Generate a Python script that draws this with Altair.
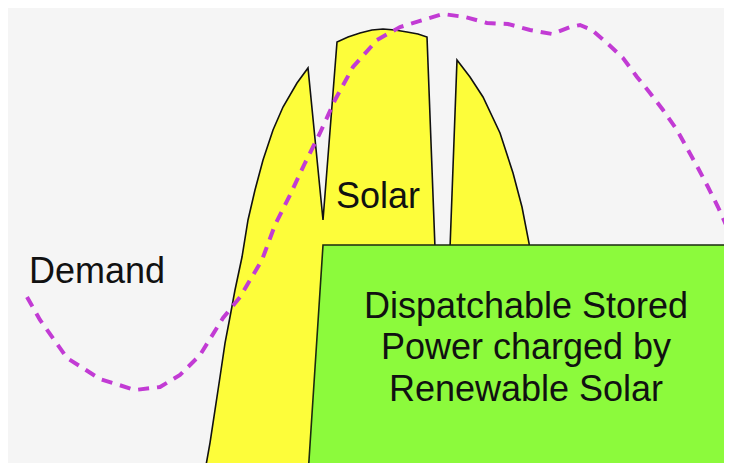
import altair as alt
import pandas as pd

# Demand curve over the day (hour, % of peak)
demand_hour = [0.637, 1.073, 1.978, 3.084, 4.257, 5.095, 5.765, 6.436, 7.207, 7.777,
               8.514, 8.950, 9.453, 9.955, 10.458, 10.961, 11.564, 12.369, 13.140, 13.911,
               14.581, 15.319, 16.056, 16.760, 17.497, 18.235, 18.838, 19.173, 19.576, 20.078,
               20.615, 21.084, 21.520, 21.956, 22.425, 22.794, 23.129, 23.464, 23.799, 24.101,
               24.268]
demand_pct = [36.48, 31.43, 23.08, 18.46, 16.04, 16.70, 19.34, 23.74, 31.87, 36.48,
              44.62, 52.31, 58.90, 65.93, 72.53, 79.78, 87.03, 92.97, 95.82, 97.36,
              98.68, 98.02, 96.70, 96.48, 95.16, 94.29, 95.82, 96.26, 95.16, 92.31,
              89.01, 84.84, 81.32, 77.58, 73.19, 68.79, 64.84, 60.66, 56.26, 51.87,
              47.47]

# Solar output over the day (hour, % of peak), with cloud dips
solar_hour = [6.503, 6.603, 6.771, 6.939, 7.106, 7.274, 7.441, 7.609, 7.844, 8.045,
              8.279, 8.548, 8.883, 9.218, 9.687, 10.056, 10.559, 11.028, 11.397, 11.799,
              12.201, 12.570, 12.972, 13.374, 13.743, 14.045, 14.313, 14.816, 15.050, 15.486,
              15.922, 16.492, 16.928, 17.229, 17.464, 17.833, 18.168]
solar_pct = [-3.74, -1.76, 4.40, 11.65, 18.90, 26.37, 32.09, 38.02, 45.27, 53.41,
             60.00, 66.59, 73.19, 78.24, 83.52, 86.81, 53.41, 92.53, 93.63, 94.51,
             95.16, 95.38, 95.16, 94.73, 94.29, 93.63, 47.25, 47.25, 88.57, 84.84,
             80.44, 72.53, 63.74, 56.26, 48.35, 29.23, -3.74]

# Dispatchable stored power block
store_pct = [47.91, -3.74]
store_start = [10.559, 10.046]
store_end = [24.067, 24.208]

# Labels
label_text = ["Demand", "Solar", "Dispatchable Stored", "Power charged by", "Renewable Solar"]
label_hour = [2.983, 12.402, 17.363, 17.363, 17.363]
label_pct = [39.56, 56.04, 31.87, 22.86, 13.63]

demand_df = pd.DataFrame({"hour": demand_hour, "pct": demand_pct})
solar_df = pd.DataFrame({"hour": solar_hour, "pct": solar_pct})
store_df = pd.DataFrame({"pct": store_pct, "start": store_start, "end": store_end})
label_df = pd.DataFrame({"text": label_text, "hour": label_hour, "pct": label_pct})

xs = alt.Scale(domain=[0, 24], nice=False, zero=False)
ys = alt.Scale(domain=[0, 100], nice=False, zero=False)

solar = alt.Chart(solar_df).mark_area(
    color="#fdfd3a", stroke="#111111", strokeWidth=1.6, clip=True, opacity=1
).encode(
    x=alt.X("hour:Q", scale=xs, axis=None),
    y=alt.Y("pct:Q", scale=ys, axis=None),
    y2=alt.datum(-10),
)

store = alt.Chart(store_df).mark_area(
    orient="horizontal", color="#8cfa3c", stroke="#1a2a10", strokeWidth=1.6, clip=True, opacity=1
).encode(
    y=alt.Y("pct:Q", scale=ys, axis=None),
    x=alt.X("start:Q", scale=xs, axis=None),
    x2="end:Q",
)

demand = alt.Chart(demand_df).mark_line(
    color="#c23bd4", strokeWidth=4, strokeDash=[11, 8], clip=True
).encode(
    x=alt.X("hour:Q", scale=xs, axis=None),
    y=alt.Y("pct:Q", scale=ys, axis=None),
    order="hour:Q",
)

labels = alt.Chart(label_df).mark_text(
    font="Liberation Sans", fontSize=36, color="#111111", align="center", baseline="alphabetic"
).encode(
    x=alt.X("hour:Q", scale=xs, axis=None),
    y=alt.Y("pct:Q", scale=ys, axis=None),
    text="text:N",
)

chart = alt.layer(solar, store, demand, labels).properties(
    width=716, height=455, padding=0, background="#f5f5f5",
    autosize=alt.AutoSizeParams(type="none"),
).configure_view(stroke=None, fill="#f5f5f5")

chart.save("out.html", embed_options={"renderer": "svg", "actions": False})
